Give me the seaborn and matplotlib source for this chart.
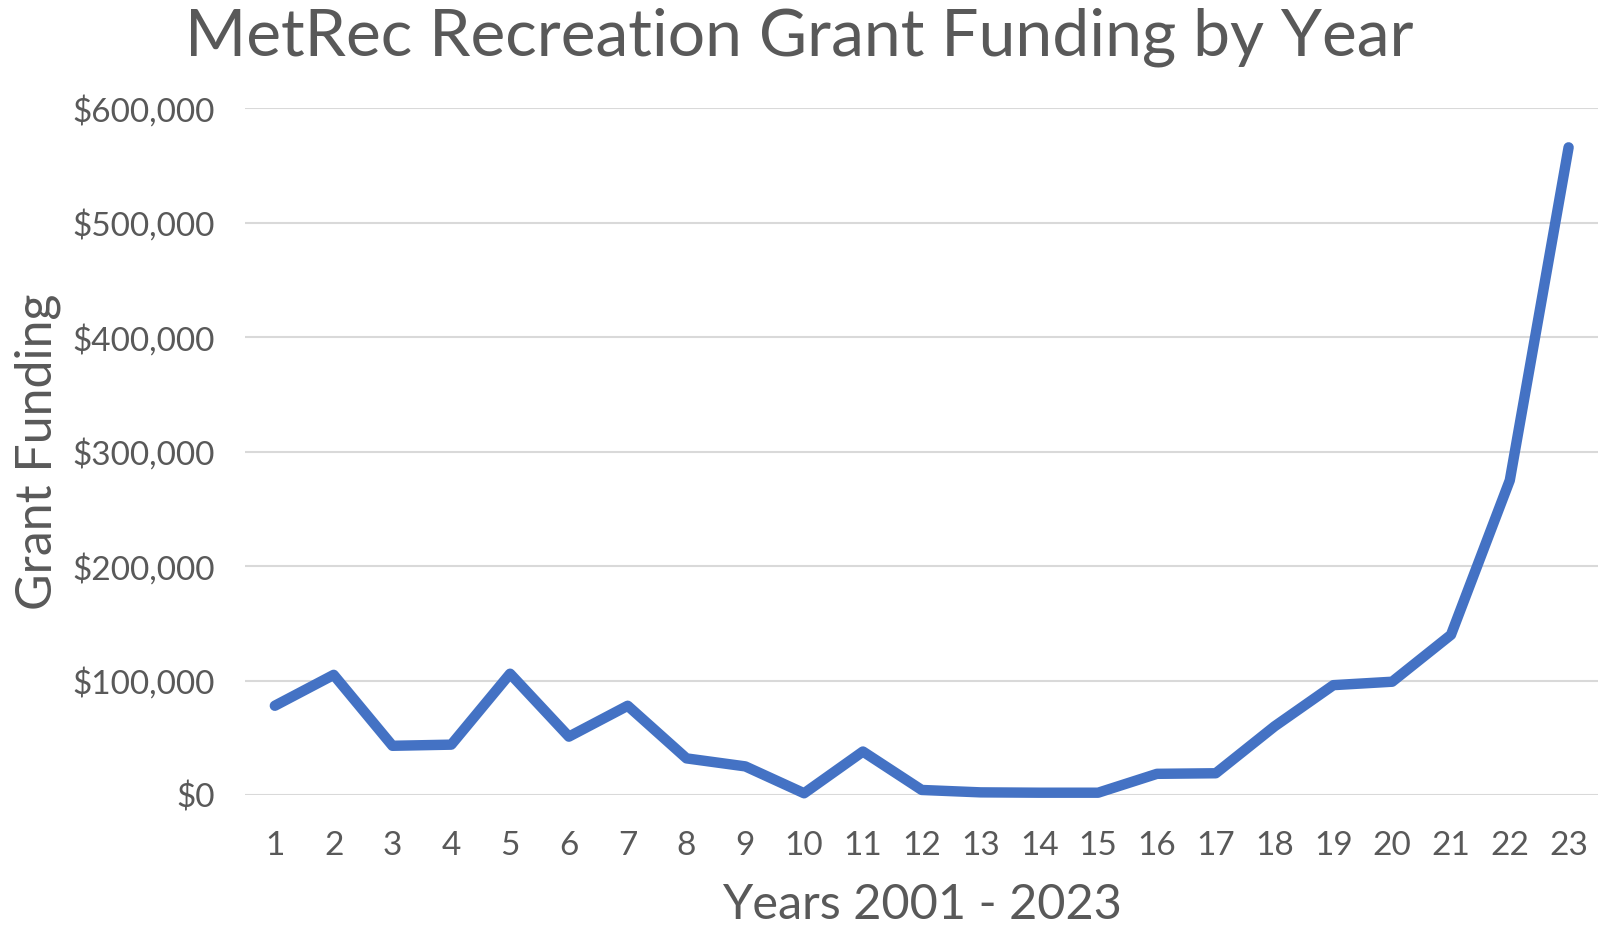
import matplotlib
matplotlib.use("Agg")
import matplotlib.pyplot as plt
import seaborn as sns
import pandas as pd
from matplotlib.ticker import FuncFormatter

years = list(range(1, 24))
funding = [78000, 105000, 43000, 44000, 106000, 51000, 78000, 32000, 25000, 1500,
           38000, 4400, 2300, 2000, 2000, 18500, 19000, 60000, 96000, 99000,
           140000, 275000, 566000]
title = "MetRec Recreation Grant Funding by Year"
xlabel = "Years 2001 - 2023"
ylabel = "Grant Funding"

df = pd.DataFrame({"year": years, "funding": funding})

sns.set_theme(style="white")
plt.rcParams["font.family"] = ["Lato", "DejaVu Sans"]
text_color = "#595959"

fig = plt.figure(figsize=(15.98, 9.27), dpi=100)
ax = fig.add_axes([0.1536, 0.1424, 0.8464, 0.7406])

sns.lineplot(data=df, x="year", y="funding", ax=ax, color="#4472C4",
             linewidth=7.5, solid_capstyle="round", solid_joinstyle="round",
             clip_on=False, zorder=3)

ax.set_xlim(0.5, 23.5)
ax.set_ylim(0, 600000)
ax.set_xticks(years)
ax.set_xticklabels([str(y) for y in years])
ax.set_yticks(range(0, 600001, 100000))
ax.yaxis.set_major_formatter(FuncFormatter(lambda v, p: f"${int(v):,}"))
ax.grid(axis="y", color="#D9D9D9", linewidth=1.5)
ax.grid(axis="x", visible=False)
for s in ax.spines.values():
    s.set_visible(False)
ax.tick_params(axis="both", length=0, labelsize=24, labelcolor=text_color)
ax.tick_params(axis="x", pad=26)
ax.tick_params(axis="y", pad=22)

ax.set_xlabel(xlabel, fontsize=35, color=text_color, labelpad=16)
ax.set_ylabel(ylabel, fontsize=36, color=text_color, labelpad=8)
fig.text(0.5, 0.992, title, ha="center", va="top", fontsize=47.5, color=text_color)

fig.savefig("out.png", dpi=100, facecolor="white")
